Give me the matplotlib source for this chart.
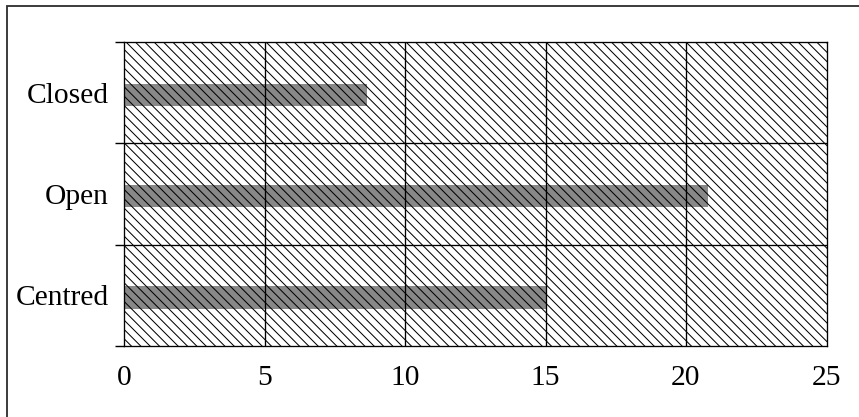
import matplotlib
matplotlib.use('Agg')
from matplotlib import pyplot as plt
from matplotlib.patches import Rectangle

# データ
categories = ['Closed', 'Open', 'Centred']
values = [8.66, 20.8, 15.0]
xticks = [0, 5, 10, 15, 20, 25]

plt.rcParams['font.family'] = ['Liberation Serif', 'DejaVu Serif']
plt.rcParams['hatch.linewidth'] = 0.65
plt.rcParams['hatch.color'] = 'black'

dpi = 112
fig = plt.figure(figsize=(859 / dpi, 417 / dpi), dpi=dpi)
ax = fig.add_axes([124 / 859, 1 - 346 / 417, 702.5 / 859, 304 / 417])

# 背景のハッチ（バーの上に重ねる）
ax.add_patch(Rectangle((0, 0), 1, 1, transform=ax.transAxes,
                       facecolor='none', edgecolor='black', hatch='\\' * 4,
                       linewidth=0, zorder=3))

# バー（上から Closed, Open, Centred）
n = len(categories)
ypos = [n - 0.52 - i for i in range(n)]
ax.barh(ypos, values, height=0.22, color='#888888', zorder=2)

ax.set_xlim(0, 25)
ax.set_ylim(0, n)
ax.set_xticks(xticks)
ax.set_xticklabels([str(t) for t in xticks], fontsize=19)
ax.tick_params(axis='x', length=0, pad=12)

ax.set_yticks(range(n + 1))
ax.set_yticklabels([])
ax.tick_params(axis='y', which='major', length=6, width=0.9)
ax.set_yticks([n - 0.5 - i for i in range(n)], minor=True)
ax.set_yticklabels(categories, minor=True, fontsize=19)
ax.tick_params(axis='y', which='minor', length=0, pad=10)

# グリッド
for x in xticks[1:-1]:
    ax.axvline(x, color='black', linewidth=0.85, zorder=4)
for y in range(1, n):
    ax.axhline(y, color='black', linewidth=0.85, zorder=4)

for s in ax.spines.values():
    s.set_linewidth(0.85)
    s.set_zorder(5)

# 外枠
fig.patches.append(Rectangle((6.5 / 859, -0.1), 1.2, 1 - 6 / 417 + 0.1,
                             transform=fig.transFigure, fill=False,
                             edgecolor='#333333', linewidth=1.2))

fig.savefig('out.png', dpi=dpi)
plt.close()
